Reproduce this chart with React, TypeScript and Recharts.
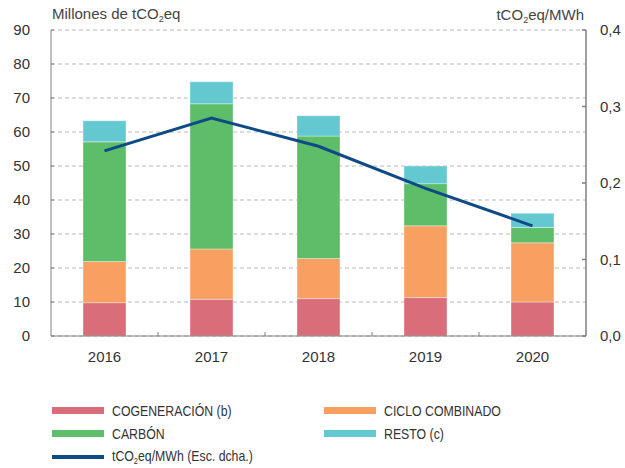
import { ComposedChart, Bar, Line, XAxis, YAxis, CartesianGrid } from 'recharts'

// emisiones por tecnología, millones de tCO2eq
const YEARS = ['2016', '2017', '2018', '2019', '2020']
const COGENERACION = [9.8, 10.8, 11.0, 11.3, 10.0]
const CICLO = [12.1, 14.8, 11.8, 21.1, 17.4]
const CARBON = [35.2, 42.7, 36.0, 12.4, 4.5]
const RESTO = [6.2, 6.5, 6.0, 5.2, 4.2]
// intensidad, tCO2eq/MWh (eje dcho.)
const INTENSIDAD = [0.242, 0.285, 0.248, 0.193, 0.144]

const LEFT_TICKS = [0, 10, 20, 30, 40, 50, 60, 70, 80, 90]
const RIGHT_TICKS = [0, 0.1, 0.2, 0.3, 0.4]

const C_COG = '#D96D7A'
const C_CICLO = '#F7A062'
const C_CARBON = '#5EBD68'
const C_RESTO = '#63C8D0'
const C_LINE = '#0E4A86'
const AXIS = '#808080'
const TXT = '#333333'
const FONT = "'Liberation Sans', Arial, sans-serif"

const data = YEARS.map((y, i) => ({
  year: y,
  cog: COGENERACION[i],
  ciclo: CICLO[i],
  carbon: CARBON[i],
  resto: RESTO[i],
  ratio: INTENSIDAD[i],
}))

const LeftTick = (p: any) => {
  const ax = p.x + 21
  return (
    <g>
      <line x1={ax} x2={ax + 3} y1={p.y} y2={p.y} stroke={AXIS} />
      <text x={p.x} y={p.y} dy="0.36em" textAnchor="end" fill={TXT} fontSize={15} fontFamily={FONT}>
        {p.payload.value}
      </text>
    </g>
  )
}

const RightTick = (p: any) => {
  const ax = p.x - 14
  return (
    <g>
      <line x1={ax - 4} x2={ax} y1={p.y} y2={p.y} stroke={AXIS} strokeWidth={1.5} />
      <text x={p.x} y={p.y} dy="0.36em" textAnchor="start" fill={TXT} fontSize={15} fontFamily={FONT}>
        {p.payload.value.toFixed(1).replace('.', ',')}
      </text>
    </g>
  )
}

const BottomTick = (p: any) => {
  const ay = p.y - 21
  const band = p.width / (p.visibleTicksCount || YEARS.length)
  const last = p.index === YEARS.length - 1
  return (
    <g>
      {!last && <line x1={p.x + band / 2} x2={p.x + band / 2} y1={ay} y2={ay - 4} stroke={AXIS} />}
      <text x={p.x} y={p.y} dy="0.36em" textAnchor="middle" fill={TXT} fontSize={15} fontFamily={FONT}>
        {p.payload.value}
      </text>
    </g>
  )
}

const legendItems = [
  { label: 'COGENERACIÓN (b)', color: C_COG, col: 0, row: 0 },
  { label: 'CICLO COMBINADO', color: C_CICLO, col: 1, row: 0 },
  { label: 'CARBÓN', color: C_CARBON, col: 0, row: 1 },
  { label: 'RESTO (c)', color: C_RESTO, col: 1, row: 1 },
]

const narrow = { display: 'inline-block', transform: 'scaleX(0.82)', transformOrigin: 'left center', whiteSpace: 'nowrap' as const }

export default function App() {
  return (
    <div style={{ position: 'relative', width: 625, height: 468, background: '#fff', fontFamily: FONT }}>
      <style>{'body{margin:0}'}</style>
      <div style={{ position: 'absolute', left: 52, top: 5, fontSize: 15, color: '#444', lineHeight: '18px' }}>
        Millones de tCO<sub style={{ fontSize: 9, verticalAlign: '-3px' }}>2</sub>eq
      </div>
      <div style={{ position: 'absolute', right: 41, top: 6, fontSize: 15, color: '#444', lineHeight: '18px' }}>
        tCO<sub style={{ fontSize: 9, verticalAlign: '-3px' }}>2</sub>eq/MWh
      </div>

      <ComposedChart
        width={625}
        height={370}
        data={data}
        margin={{ top: 30, right: 0, bottom: 0, left: 0 }}
        barCategoryGap={0}
      >
        <CartesianGrid vertical={false} stroke="#b8b8b8" strokeDasharray="4 3" yAxisId="left" />
        <XAxis
          dataKey="year"
          height={34}
          stroke={AXIS}
          tickLine={false}
          tickSize={0}
          tickMargin={21}
          tick={<BottomTick />}
        />
        <YAxis
          yAxisId="left"
          domain={[0, 90]}
          ticks={LEFT_TICKS}
          width={51}
          stroke={AXIS}
          tickLine={false}
          tickSize={0}
          tickMargin={21}
          tick={<LeftTick />}
        />
        <YAxis
          yAxisId="right"
          orientation="right"
          domain={[0, 0.4]}
          ticks={RIGHT_TICKS}
          width={39}
          stroke={AXIS}
          strokeWidth={1.5}
          tickLine={false}
          tickSize={0}
          tickMargin={14}
          tick={<RightTick />}
        />
        <Bar yAxisId="left" dataKey="cog" stackId="a" fill={C_COG} barSize={43} stroke="#fff" strokeOpacity={0.35} isAnimationActive={false} />
        <Bar yAxisId="left" dataKey="ciclo" stackId="a" fill={C_CICLO} barSize={43} stroke="#fff" strokeOpacity={0.35} isAnimationActive={false} />
        <Bar yAxisId="left" dataKey="carbon" stackId="a" fill={C_CARBON} barSize={43} stroke="#fff" strokeOpacity={0.35} isAnimationActive={false} />
        <Bar yAxisId="left" dataKey="resto" stackId="a" fill={C_RESTO} barSize={43} stroke="#fff" strokeOpacity={0.35} isAnimationActive={false} />
        <Line
          yAxisId="right"
          dataKey="ratio"
          type="linear"
          stroke={C_LINE}
          strokeWidth={3}
          dot={false}
          isAnimationActive={false}
        />
      </ComposedChart>

      {/* leyenda */}
      {legendItems.map((it) => (
        <div
          key={it.label}
          style={{
            position: 'absolute',
            left: it.col === 0 ? 52 : 324,
            top: 402 + it.row * 23,
            height: 17,
            display: 'flex',
            alignItems: 'center',
            fontSize: 15,
            color: TXT,
          }}
        >
          <span style={{ display: 'inline-block', width: 52, height: 7, background: it.color, marginRight: 8 }} />
          <span style={narrow}>{it.label}</span>
        </div>
      ))}
      <div
        style={{
          position: 'absolute',
          left: 52,
          top: 448,
          height: 17,
          display: 'flex',
          alignItems: 'center',
          fontSize: 15,
          color: TXT,
        }}
      >
        <span style={{ display: 'inline-block', width: 52, height: 4, background: C_LINE, marginRight: 8 }} />
        <span style={narrow}>
          tCO<sub style={{ fontSize: 9, verticalAlign: '-3px' }}>2</sub>eq/MWh (Esc. dcha.)
        </span>
      </div>
    </div>
  )
}
